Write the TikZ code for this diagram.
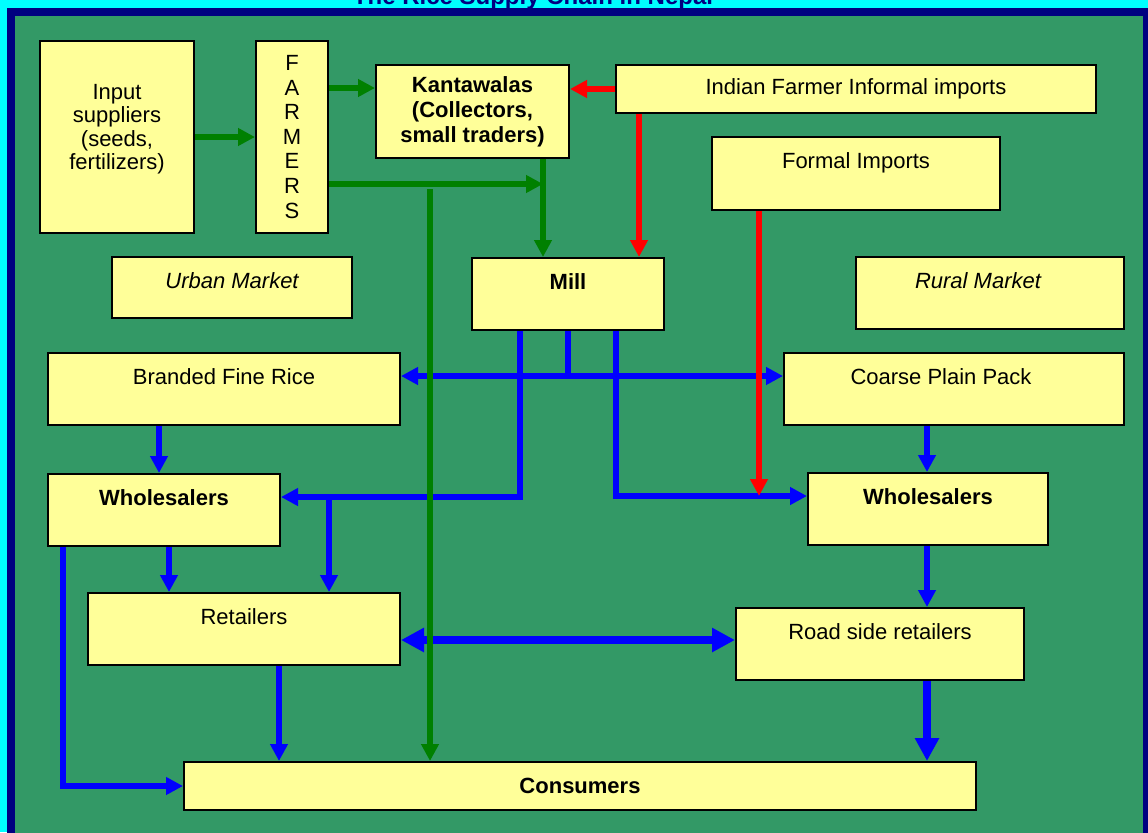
\documentclass[tikz,border=0pt]{standalone}
\usepackage{fontspec}
\setmainfont{Liberation Sans}
\usepackage{xcolor}
\usepackage{tikz}
\usetikzlibrary{arrows.meta,
calc}

\definecolor{skyCyan}{HTML}{00FFFF}
\definecolor{frameNavy}{HTML}{000080}
\definecolor{fieldGreen}{HTML}{339966}
\definecolor{boxYellow}{HTML}{FFFF99}
\definecolor{arrowGreen}{HTML}{008000}
\definecolor{arrowRed}{HTML}{FF0000}
\definecolor{arrowBlue}{HTML}{0000FF}

\begin{document}
\begin{tikzpicture}[
    x=0.75pt,
    y=-0.75pt,
    font=\fontsize{16.5}{17.5}\selectfont,
    actor/.style={
        draw=black,
        line width=1.5pt,
        fill=boxYellow,
        anchor=north west,
        inner sep=0pt
    },
    actorTop/.style={
        actor,
        text height=23.25pt,
        text depth=#1
    },
    actorTop/.default=30.75pt,
    greenFlow/.style={
        draw=arrowGreen,
        line width=4.5pt,
        arrows={-Triangle[length=12.75pt,width=12.75pt]}
    },
    redFlow/.style={
        draw=arrowRed,
        line width=4.5pt,
        arrows={-Triangle[length=12.75pt,width=12.75pt]}
    },
    blueLine/.style={
        draw=arrowBlue,
        line width=4.5pt
    },
    blueFlow/.style={
        blueLine,
        arrows={-Triangle[length=12.75pt,width=12.75pt]}
    },
    blueBoth/.style={
        blueLine,
        arrows={Triangle[length=12.75pt,width=12.75pt]-Triangle[length=12.75pt,width=12.75pt]}
    },
    blueHeavy/.style={
        draw=arrowBlue,
        line width=6pt,
        arrows={-Triangle[length=17.25pt,width=17.25pt]}
    },
    blueHeavyBoth/.style={
        blueHeavy,
        arrows={Triangle[length=17.25pt,width=17.25pt]-Triangle[length=17.25pt,width=17.25pt]}
    },
    titleText/.style={
        font=\fontsize{18}{20}\selectfont\bfseries,
        text=frameNavy,
        anchor=base,
        inner sep=0pt
    }
]

\useasboundingbox (0,0) rectangle (1148,832);

%------------------------------------------------------------------------------
% Frame and title
%------------------------------------------------------------------------------

\fill[skyCyan] (0,0) rectangle (1148,832);
\fill[frameNavy] (7,8) rectangle (1156,840);
\fill[fieldGreen] (15,16) rectangle (1143,840);

\node[titleText] (title) at (533,4) {The Rice Supply Chain in Nepal};

%------------------------------------------------------------------------------
% Production side
%------------------------------------------------------------------------------

\node[actor, align=center, minimum width=115.5pt, minimum height=144pt]
    (suppliers) at (39,40)
    {Input\\suppliers\\(seeds,\\fertilizers)\\[-2.5pt]\mbox{}};

\node[actor, align=center, minimum width=54pt, minimum height=144pt,
      font=\fontsize{16.5}{18.4}\selectfont]
    (farmers) at (255,40)
    {F\\A\\R\\M\\E\\R\\S};

\node[actor, align=center, minimum width=144.75pt, minimum height=69.75pt,
      font=\fontsize{16.5}{18.75}\selectfont\bfseries]
    (kanta) at (375,64)
    {Kantawalas\\(Collectors,\\small traders)};

\node[actor, minimum width=360pt, minimum height=36pt]
    (indian) at (615,64)
    {Indian Farmer Informal imports};

\node[actorTop=31.5pt, minimum width=216pt]
    (formal) at (711,136)
    {Formal Imports};

\node[actorTop=22.5pt, minimum width=180pt]
    (urban) at (111,256)
    {\itshape Urban Market};

\node[actorTop, minimum width=144pt]
    (mill) at (471,257)
    {\bfseries Mill};

\node[actorTop, minimum width=201pt]
    (rural) at (855,256)
    {\itshape Rural Market\hspace*{18pt}};

%------------------------------------------------------------------------------
% Distribution side
%------------------------------------------------------------------------------

\node[actorTop, minimum width=264pt]
    (branded) at (47,352)
    {Branded Fine Rice};

\node[actorTop, minimum width=255pt]
    (coarse) at (783,352)
    {Coarse Plain Pack\hspace*{19.5pt}};

\node[actorTop, minimum width=174pt]
    (wholL) at (47,473)
    {\bfseries Wholesalers};

\node[actorTop, minimum width=180pt]
    (wholR) at (807,472)
    {\bfseries Wholesalers};

\node[actorTop, minimum width=234pt]
    (retailers) at (87,592)
    {Retailers};

\node[actorTop, minimum width=216pt]
    (road) at (735,607)
    {Road side retailers};

\node[actor, minimum width=594pt, minimum height=36pt]
    (consumers) at (183,761)
    {\bfseries Consumers};

%------------------------------------------------------------------------------
% Branch points
%------------------------------------------------------------------------------

\coordinate (brIn)     at ($(branded.north east)+(0,24)$);
\coordinate (millLeft) at ($(mill.south)+(-48,0)$);
\coordinate (millRight) at ($(mill.south)+(48,0)$);
\coordinate (wsLeft)   at ($(wholL.north east)+(0,24)$);
\coordinate (wsTee)    at ($(wholL.north east)+(48,24)$);
\coordinate (wsRight)  at ($(wholR.north west)+(0,24)$);
\coordinate (brOut)    at ($(branded.south west)+(112,0)$);
\coordinate (coOut)    at ($(coarse.south west)+(144,0)$);
\coordinate (wlOut)    at ($(wholL.south west)+(122,0)$);
\coordinate (wlSide)   at ($(wholL.south west)+(16,0)$);
\coordinate (wrOut)    at ($(wholR.south west)+(120,0)$);
\coordinate (rtIn)     at ($(retailers.north east)+(0,48)$);
\coordinate (rtOut)    at ($(retailers.south west)+(192,0)$);
\coordinate (rdOut)    at ($(road.south west)+(192,0)$);
\coordinate (faTop)    at ($(farmers.north east)+(0,48)$);
\coordinate (faLow)    at ($(farmers.north east)+(0,144)$);
\coordinate (kaOut)    at ($(kanta.south west)+(168,0)$);
\coordinate (grDrop)   at ($(faLow)+(101,5)$);
\coordinate (inOut)    at ($(indian.south west)+(24,0)$);
\coordinate (foOut)    at ($(formal.south west)+(48,0)$);

%------------------------------------------------------------------------------
% Blue flows (milled rice)
%------------------------------------------------------------------------------

\draw[blueLine] (mill.south) -- (mill.south |- brIn);
\draw[blueBoth] (brIn) -- (brIn -| coarse.west);

\draw[blueFlow] (millLeft) |- (wsLeft);
\draw[blueFlow] (wsTee) -- (wsTee |- retailers.north);
\draw[blueFlow] (millRight) |- (wsRight);

\draw[blueFlow] (brOut) -- (brOut |- wholL.north);
\draw[blueFlow] (coOut) -- (coOut |- wholR.north);
\draw[blueFlow] (wlOut) -- (wlOut |- retailers.north);
\draw[blueFlow] (wlSide) |- (consumers.west);
\draw[blueFlow] (wrOut) -- (wrOut |- road.north);
\draw[blueFlow] (rtOut) -- (rtOut |- consumers.north);

\draw[blueHeavyBoth] (rtIn) -- (rtIn -| road.west);
\draw[blueHeavy] (rdOut) -- (rdOut |- consumers.north);

%------------------------------------------------------------------------------
% Green flows (paddy)
%------------------------------------------------------------------------------

\draw[greenFlow] (suppliers) -- (farmers);
\draw[greenFlow] (faTop) -- (faTop -| kanta.west);
\draw[greenFlow] (faLow) -- (faLow -| kaOut);
\draw[greenFlow] (kaOut) -- (kaOut |- mill.north);
\draw[greenFlow] (grDrop) -- (grDrop |- consumers.north);

%------------------------------------------------------------------------------
% Red flows (imports)
%------------------------------------------------------------------------------

\draw[redFlow] (indian.west) -- (indian.west -| kanta.east);
\draw[redFlow] (inOut) -- (inOut |- mill.north);
\draw[redFlow] (foOut) -- (foOut |- wsRight);

\end{tikzpicture}
\end{document}
